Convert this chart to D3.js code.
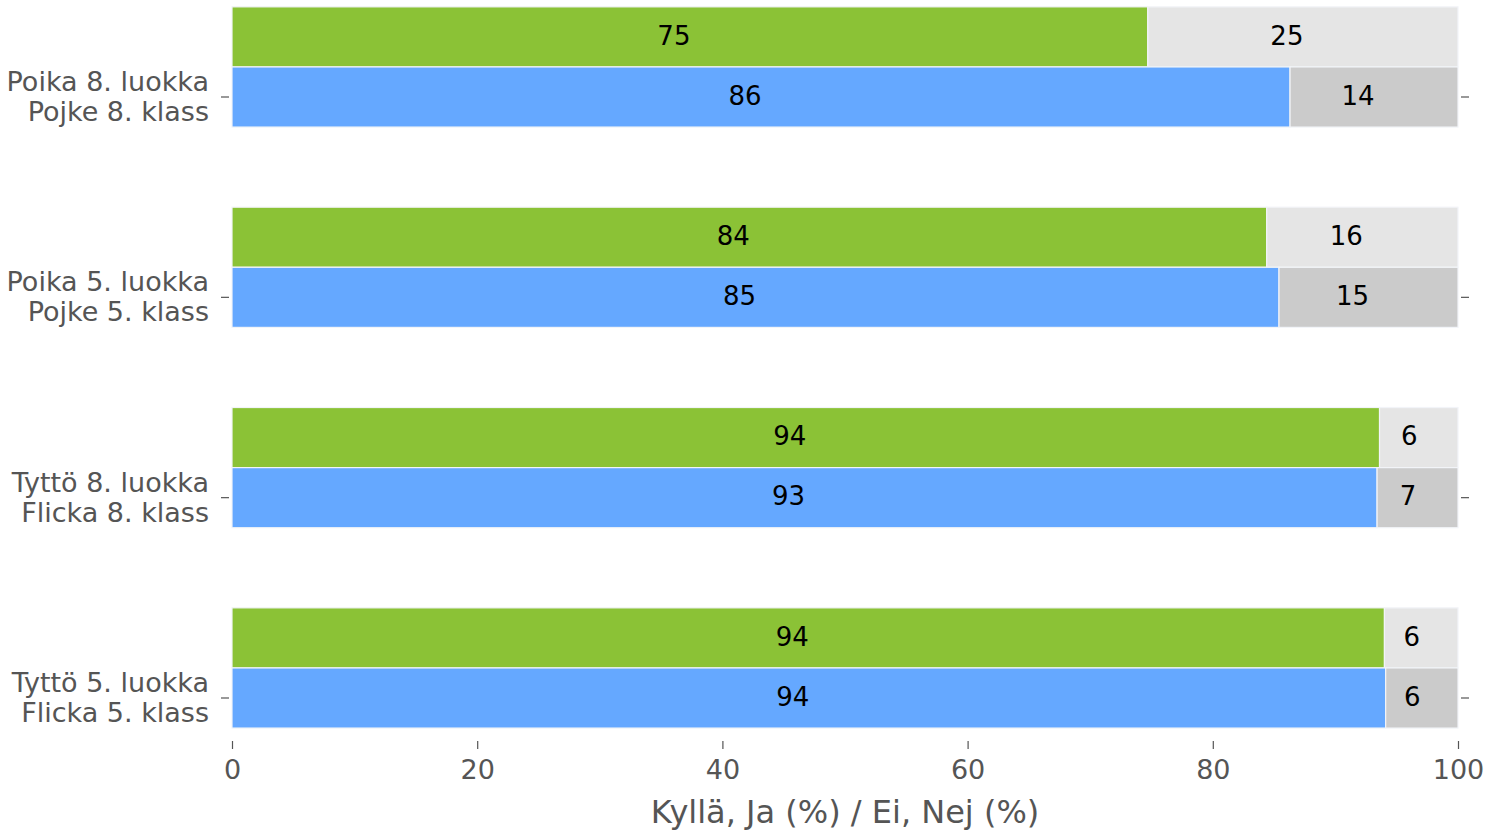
<!DOCTYPE html>
<html>
<head>
<meta charset="utf-8">
<script src="https://cdn.jsdelivr.net/npm/d3@7"></script>
<style>
  html, body { margin: 0; padding: 0; background: #ffffff; }
  svg text { font-family: "DejaVu Sans", sans-serif; }
</style>
</head>
<body>
<svg id="chart" width="1488" height="831"></svg>
<script>
// ---- data ----
const categories = [
  "Poika 8. luokka\nPojke 8. klass",
  "Poika 5. luokka\nPojke 5. klass",
  "Tyttö 8. luokka\nFlicka 8. klass",
  "Tyttö 5. luokka\nFlicka 5. klass"
];
const yesA = [74.7, 84.4, 93.6, 94.0];   // green (top bar)
const yesB = [86.3, 85.4, 93.4, 94.1];   // blue (bottom bar)
const xTicks = [0, 20, 40, 60, 80, 100];
const xLabel = "Kyllä, Ja (%) / Ei, Nej (%)";

const colors = { yesA: "#8bc236", noA: "#e5e5e5", yesB: "#65a8ff", noB: "#cbcbcb" };

// ---- layout ----
const svg = d3.select("#chart");
const x = d3.scaleLinear().domain([0, 100]).range([232, 1458]);
const y = d3.scalePoint().domain(categories).range([97, 698]);
const step = y.step();
const barH = step * 0.3;

const rows = categories.map((c, i) => ({ c, a: yesA[i], b: yesB[i] }));

const g = svg.append("g");

function seg(yTop, x0v, x1v, fill) {
  g.append("rect")
    .attr("x", x(x0v)).attr("y", yTop)
    .attr("width", x(x1v) - x(x0v)).attr("height", barH)
    .attr("fill", fill)
    .attr("stroke", "#f2f4f8").attr("stroke-width", 1.2);
}
function lab(yTop, x0v, x1v, text) {
  const n = String(text).length;
  g.append("text")
    .attr("x", (x(x0v) + x(x1v)) / 2 - (3 + 6.5 * n))
    .attr("y", yTop + barH / 2)
    .attr("dy", "0.3em")
    .attr("text-anchor", "middle")
    .attr("font-size", 26)
    .attr("fill", "#000")
    .text(text);
}

rows.forEach(r => {
  const yc = y(r.c);
  const yA = yc - barH * 1.5;
  const yB = yc - barH * 0.5;
  seg(yA, 0, r.a, colors.yesA);
  seg(yA, r.a, 100, colors.noA);
  seg(yB, 0, r.b, colors.yesB);
  seg(yB, r.b, 100, colors.noB);
  lab(yA, 0, r.a, Math.round(r.a));
  lab(yA, r.a, 100, Math.round(100 - r.a));
  lab(yB, 0, r.b, Math.round(r.b));
  lab(yB, r.b, 100, Math.round(100 - r.b));
});

// left y ticks + labels, right ticks
const yAxisL = svg.append("g");
categories.forEach(c => {
  const yc = y(c);
  yAxisL.append("line").attr("x1", 221).attr("x2", 229).attr("y1", yc).attr("y2", yc)
    .attr("stroke", "#555").attr("stroke-width", 1.2);
  svg.append("line").attr("x1", 1461).attr("x2", 1469).attr("y1", yc).attr("y2", yc)
    .attr("stroke", "#555").attr("stroke-width", 1.2);
  const lines = c.split("\n");
  const t = yAxisL.append("text")
    .attr("text-anchor", "end")
    .attr("font-size", 27)
    .attr("fill", "#555");
  lines.forEach((ln, k) => {
    t.append("tspan").attr("x", 209).attr("y", yc - 15 + k * 30).attr("dy", "0.33em").text(ln);
  });
});

// bottom axis
const xAxis = d3.axisBottom(x).tickValues(xTicks).tickSize(8).tickPadding(11).tickFormat(d3.format("d"));
const ax = svg.append("g").attr("transform", "translate(0,741)").call(xAxis);
ax.select(".domain").remove();
ax.selectAll(".tick line").attr("stroke", "#555").attr("stroke-width", 1.2);
ax.selectAll(".tick text").attr("font-size", 27).attr("fill", "#555")
  .attr("font-family", "DejaVu Sans, sans-serif");

svg.append("text")
  .attr("x", (x(0) + x(100)) / 2).attr("y", 823)
  .attr("text-anchor", "middle")
  .attr("font-size", 32).attr("fill", "#555")
  .text(xLabel);
</script>
</body>
</html>
